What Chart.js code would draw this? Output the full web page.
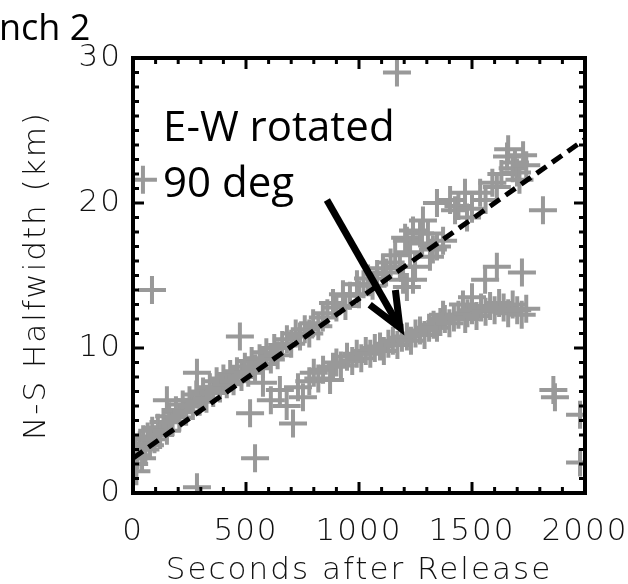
<!DOCTYPE html>
<html>
<head>
<meta charset="utf-8">
<script src="https://cdn.jsdelivr.net/npm/chart.js@4"></script>
<style>
  html, body { margin: 0; padding: 0; background: #fff; }
  #wrap { position: relative; width: 628px; height: 584px; }
</style>
</head>
<body>
<div id="wrap"><canvas id="chart"></canvas></div>
<script>
// N-S halfwidth samples (upper branch)
const nsX = [5, 10, 15, 20, 30, 40, 45, 55, 65, 75, 85, 95,
    110, 120, 135, 150, 160, 175, 190, 205, 220, 235, 250, 265, 280, 295,
    310, 325, 340, 355, 370, 385, 400, 415, 430, 445, 460, 480, 495, 510, 525, 540, 560, 575, 590, 610, 625, 640, 660, 681, 700, 720, 739,
    760, 780, 797, 820, 840, 860, 885, 900, 929, 940, 960, 991, 1000, 1020, 1040, 1060, 1080, 1106, 1120, 1140, 1160, 1181, 1195,
    1204, 1212, 1212, 1226, 1239, 1239, 1248, 1270, 1279, 1283, 1305, 1314, 1327, 1345, 1345, 1372, 1403, 1425, 1440, 1469, 1478, 1500,
    1536, 1560, 1590, 1610, 1630, 1655, 1660, 1680, 1690, 1699, 1710, 1726, 1740];
const nsY = [2.0, 3.0, 1.5, 2.6, 3.3, 2.4, 3.7, 3.0, 3.9, 3.3, 4.3, 3.7,
    4.5, 4.0, 4.9, 4.3, 5.3, 4.9, 5.7, 5.2, 6.1, 5.6, 6.4, 6.0, 6.8, 6.3,
    7.0, 6.5, 7.3, 6.9, 7.7, 7.2, 7.9, 7.5, 8.2, 7.7, 8.4, 8.0, 8.7, 8.3, 9.1, 8.6, 9.3, 8.9, 9.7, 9.2, 10.0, 9.5, 10.2, 10.6, 10.3, 11.0, 10.8,
    11.3, 11.0, 11.7, 11.5, 12.1, 12.4, 13.1, 12.8, 13.7, 12.9, 13.6, 14.4, 13.7, 14.4, 14.8, 14.3, 15.1, 15.5, 15.2, 15.9, 16.4, 15.6, 14.7,
    17.6, 17.4, 14.2, 16.6, 18.1, 14.7, 15.6, 17.9, 17.2, 18.8, 17.9, 16.3, 16.8, 17.0, 20.0, 17.4, 20.2, 19.5, 19.8, 20.7, 19.0, 19.6,
    20.7, 20.2, 21.4, 21.1, 22.0, 23.2, 23.7, 22.4, 22.8, 22.1, 21.6, 23.3, 22.6];

// E-W halfwidth rotated 90 deg (lower branch)
const ewX = [575, 610, 650, 680, 708, 730, 752, 780, 800, 820, 841, 872, 885, 900, 920, 947, 970, 990, 1010, 1030,
    1050, 1070, 1093, 1110, 1130, 1150, 1170, 1190, 1212, 1230, 1250, 1270, 1290, 1310, 1330, 1345, 1360, 1372, 1380, 1400,
    1420, 1440, 1460, 1470, 1480, 1500, 1500, 1520, 1540, 1558, 1560, 1580, 1600, 1610, 1620, 1640, 1660, 1680, 1700, 1721, 1720, 1740];
const ewY = [7.6, 6.4, 7.1, 6.0, 4.8, 7.3, 6.6, 7.7, 8.3, 7.9, 8.5, 7.8, 8.7, 9.0, 8.8, 9.4, 9.1, 9.6, 9.3, 9.8,
    9.6, 10.0, 10.1, 9.8, 10.3, 10.5, 10.2, 10.7, 10.8, 10.5, 11.0, 11.2, 10.9, 11.4, 11.6, 11.4, 11.8, 12.3, 12.0, 11.7,
    12.1, 12.3, 13.0, 12.0, 12.4, 12.6, 13.5, 12.2, 12.8, 14.7, 12.5, 12.9, 12.6, 15.6, 13.1, 12.8, 12.4, 13.0, 12.6, 15.2, 12.3, 12.7];

// stray points
const strayX = [44, 84, 150, 283, 283, 473, 518, 540, 1168, 1814, 1860, 1867, 1978, 1978];
const strayY = [21.6, 14.0, 6.4, 8.3, 0.4, 10.8, 5.5, 2.4, 29.0, 19.5, 7.1, 6.6, 5.4, 2.1];

// dashed fit line
const fitX = [0, 2000];
const fitY = [2.4, 24.4];

const xTicks = [0, 500, 1000, 1500, 2000];
const yTicks = [0, 10, 20, 30];
const xMinor = 100;
const yMinor = 1;

// annotation, in data units
const noteLines = ['E-W rotated', '90 deg'];
const noteAt = [[133, 24.3], [133, 20.4]];
const arrowFrom = [858, 20.2];
const arrowTo = [1181, 11.4];

const pts = (xs, ys) => xs.map((v, i) => ({ x: v, y: ys[i] }));
const axisFont = { family: 'DejaVu Sans', size: 31, weight: 300 };
const grey = '#999999';

const frame = {
    id: 'frame',
    beforeDraw(chart) {
        // the plot font is a wide stroke font, spread the letters a bit
        chart.ctx.letterSpacing = '2px';
    },
    afterDatasetsDraw(chart) {
        const { ctx, scales: { x, y } } = chart;
        ctx.save();
        ctx.letterSpacing = '0px';
        // arrow
        const x0 = x.getPixelForValue(arrowFrom[0]), y0 = y.getPixelForValue(arrowFrom[1]);
        const x1 = x.getPixelForValue(arrowTo[0]), y1 = y.getPixelForValue(arrowTo[1]);
        const ang = Math.atan2(y1 - y0, x1 - x0);
        ctx.strokeStyle = '#000';
        ctx.lineWidth = 7;
        ctx.lineCap = 'butt';
        ctx.beginPath();
        ctx.moveTo(x0, y0);
        ctx.lineTo(x1 - 4 * Math.cos(ang), y1 - 4 * Math.sin(ang));
        ctx.stroke();
        ctx.lineJoin = 'miter';
        ctx.beginPath();
        ctx.moveTo(x1 - 38 * Math.cos(ang - 0.4), y1 - 38 * Math.sin(ang - 0.4));
        ctx.lineTo(x1, y1);
        ctx.lineTo(x1 - 38 * Math.cos(ang + 0.4), y1 - 38 * Math.sin(ang + 0.4));
        ctx.stroke();
        // text
        ctx.fillStyle = '#000';
        ctx.font = '42px "Open Sans"';
        ctx.textBaseline = 'alphabetic';
        noteLines.forEach((t, i) => {
            ctx.fillText(t, x.getPixelForValue(noteAt[i][0]), y.getPixelForValue(noteAt[i][1]));
        });
        ctx.restore();
    },
    afterDraw(chart) {
        const { ctx, chartArea: a, scales: { x, y } } = chart;
        ctx.save();
        ctx.letterSpacing = '0px';
        ctx.strokeStyle = '#000';
        ctx.lineWidth = 3;
        const seg = (ax, ay, bx, by) => { ctx.beginPath(); ctx.moveTo(ax, ay); ctx.lineTo(bx, by); ctx.stroke(); };
        for (let v = x.min; v <= x.max; v += xMinor) {
            const px = x.getPixelForValue(v);
            const len = xTicks.includes(v) ? 11 : 6;
            seg(px, a.bottom, px, a.bottom - len);
            seg(px, a.top, px, a.top + len);
        }
        for (let v = y.min; v <= y.max; v += yMinor) {
            const py = y.getPixelForValue(v);
            const len = yTicks.includes(v) ? 11 : 6;
            seg(a.left, py, a.left + len, py);
            seg(a.right, py, a.right - len, py);
        }
        ctx.lineWidth = 4;
        ctx.strokeRect(a.left, a.top, a.right - a.left, a.bottom - a.top);
        // heading, cut at the left edge like the source slide
        ctx.fillStyle = '#000';
        ctx.font = '36px "Open Sans"';
        ctx.fillText('nch 2', -1, 40);
        ctx.restore();
    }
};

new Chart(document.getElementById('chart'), {
    type: 'scatter',
    data: {
        datasets: [
            {
                type: 'line', data: pts(fitX, fitY), borderColor: '#000', borderWidth: 5,
                borderDash: [12, 7], pointRadius: 0, fill: false, order: 0
            },
            {
                data: pts(nsX, nsY), pointStyle: 'cross', pointRadius: 14, borderColor: grey,
                borderWidth: 4, clip: 0, order: 1
            },
            {
                data: pts(ewX, ewY), pointStyle: 'cross', pointRadius: 14, borderColor: grey,
                borderWidth: 4, clip: 0, order: 2
            },
            {
                data: pts(strayX, strayY), pointStyle: 'cross', pointRadius: 14, borderColor: grey,
                borderWidth: 4, clip: 0, order: 3
            }
        ]
    },
    options: {
        responsive: true,
        maintainAspectRatio: false,
        animation: false,
        events: [],
        layout: { padding: { top: 58, right: 43, left: 0, bottom: 0 } },
        plugins: { legend: { display: false }, tooltip: { enabled: false } },
        scales: {
            x: {
                type: 'linear', min: 0, max: 2000,
                afterBuildTicks: s => { s.ticks = xTicks.map(v => ({ value: v })); },
                ticks: { padding: 20, font: axisFont, color: '#111', maxRotation: 0, callback: v => String(v) },
                grid: { display: false, drawTicks: false },
                border: { display: false },
                title: {
                    display: true, text: 'Seconds after Release', font: axisFont, color: '#111',
                    padding: { top: 0, bottom: -6 }
                },
                afterFit: s => { s.height = 91; s.paddingRight = 0; }
            },
            y: {
                type: 'linear', min: 0, max: 30,
                afterBuildTicks: s => { s.ticks = yTicks.map(v => ({ value: v })); },
                ticks: { padding: 11, font: axisFont, color: '#111', callback: v => String(v) },
                grid: { display: false, drawTicks: false },
                border: { display: false },
                title: {
                    display: true, text: 'N-S Halfwidth (km)', font: axisFont, color: '#111',
                    padding: { top: 18, bottom: 0 }
                },
                afterFit: s => { s.width = 133; }
            }
        }
    },
    plugins: [frame]
});
</script>
</body>
</html>
